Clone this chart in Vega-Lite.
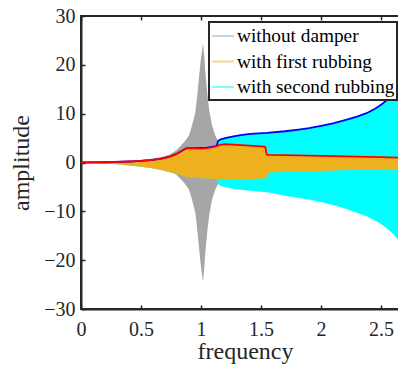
{
  "$schema": "https://vega.github.io/schema/vega-lite/v6.json",
  "width": 318,
  "height": 293,
  "autosize": {"type": "none"},
  "padding": {"left": 81, "top": 16, "right": 0, "bottom": 57},
  "config": {
    "font": "Liberation Serif",
    "view": {"stroke": "#262626", "strokeWidth": 2},
    "axis": {
      "grid": false,
      "domainColor": "#262626",
      "domainWidth": 2,
      "tickColor": "#262626",
      "tickWidth": 1.5,
      "tickSize": -4,
      "labelFlush": false,
      "labelFont": "Liberation Serif",
      "labelFontSize": 20,
      "labelColor": "#262626",
      "titleFont": "Liberation Serif",
      "titleFontSize": 24,
      "titleFontWeight": "normal",
      "titleColor": "#262626"
    }
  },
  "datasets": {
    "env": [
      {"s": "without damper", "f": 0, "hi": 0, "lo": 0},
      {"s": "without damper", "f": 0.3, "hi": 0.2, "lo": -0.2},
      {"s": "without damper", "f": 0.5, "hi": 0.5, "lo": -0.5},
      {"s": "without damper", "f": 0.6, "hi": 0.8, "lo": -0.8},
      {"s": "without damper", "f": 0.7, "hi": 1.3, "lo": -1.3},
      {"s": "without damper", "f": 0.75, "hi": 1.8, "lo": -1.8},
      {"s": "without damper", "f": 0.8, "hi": 2.6, "lo": -2.6},
      {"s": "without damper", "f": 0.83, "hi": 3.4, "lo": -3.4},
      {"s": "without damper", "f": 0.86, "hi": 4.2, "lo": -4.2},
      {"s": "without damper", "f": 0.88, "hi": 4.8, "lo": -4.8},
      {"s": "without damper", "f": 0.9, "hi": 5.6, "lo": -5.6},
      {"s": "without damper", "f": 0.915, "hi": 6.7, "lo": -6.7},
      {"s": "without damper", "f": 0.94, "hi": 9.0, "lo": -9.0},
      {"s": "without damper", "f": 0.953, "hi": 10.3, "lo": -10.3},
      {"s": "without damper", "f": 0.967, "hi": 13.3, "lo": -13.3},
      {"s": "without damper", "f": 0.977, "hi": 15.8, "lo": -15.8},
      {"s": "without damper", "f": 0.995, "hi": 20.3, "lo": -20.3},
      {"s": "without damper", "f": 1.016, "hi": 24.4, "lo": -24.4},
      {"s": "without damper", "f": 1.028, "hi": 21.5, "lo": -21.5},
      {"s": "without damper", "f": 1.036, "hi": 18.5, "lo": -18.5},
      {"s": "without damper", "f": 1.055, "hi": 13.5, "lo": -13.5},
      {"s": "without damper", "f": 1.07, "hi": 10.5, "lo": -10.5},
      {"s": "without damper", "f": 1.078, "hi": 9.5, "lo": -9.5},
      {"s": "without damper", "f": 1.09, "hi": 7.8, "lo": -7.8},
      {"s": "without damper", "f": 1.105, "hi": 6.6, "lo": -6.6},
      {"s": "without damper", "f": 1.12, "hi": 5.5, "lo": -5.5},
      {"s": "without damper", "f": 1.145, "hi": 4.3, "lo": -4.3},
      {"s": "without damper", "f": 1.18, "hi": 3.7, "lo": -3.7},
      {"s": "without damper", "f": 1.25, "hi": 3.2, "lo": -3.2},

      {"s": "with first rubbing", "f": 0, "hi": 0, "lo": 0},
      {"s": "with first rubbing", "f": 0.1, "hi": 0.02, "lo": -0.08},
      {"s": "with first rubbing", "f": 0.2, "hi": 0.05, "lo": -0.2},
      {"s": "with first rubbing", "f": 0.3, "hi": 0.1, "lo": -0.38},
      {"s": "with first rubbing", "f": 0.41, "hi": 0.2, "lo": -0.6},
      {"s": "with first rubbing", "f": 0.5, "hi": 0.33, "lo": -0.85},
      {"s": "with first rubbing", "f": 0.58, "hi": 0.5, "lo": -1.15},
      {"s": "with first rubbing", "f": 0.66, "hi": 0.76, "lo": -1.5},
      {"s": "with first rubbing", "f": 0.7, "hi": 0.95, "lo": -1.75},
      {"s": "with first rubbing", "f": 0.74, "hi": 1.2, "lo": -2.0},
      {"s": "with first rubbing", "f": 0.78, "hi": 1.55, "lo": -2.25},
      {"s": "with first rubbing", "f": 0.81, "hi": 1.95, "lo": -2.4},
      {"s": "with first rubbing", "f": 0.83, "hi": 2.25, "lo": -2.55},
      {"s": "with first rubbing", "f": 0.855, "hi": 2.6, "lo": -2.75},
      {"s": "with first rubbing", "f": 0.88, "hi": 2.9, "lo": -2.95},
      {"s": "with first rubbing", "f": 0.91, "hi": 2.95, "lo": -3.05},
      {"s": "with first rubbing", "f": 0.95, "hi": 2.9, "lo": -3.15},
      {"s": "with first rubbing", "f": 1.0, "hi": 2.85, "lo": -3.2},
      {"s": "with first rubbing", "f": 1.05, "hi": 2.95, "lo": -3.3},
      {"s": "with first rubbing", "f": 1.1, "hi": 3.15, "lo": -3.4},
      {"s": "with first rubbing", "f": 1.13, "hi": 3.35, "lo": -3.45},
      {"s": "with first rubbing", "f": 1.16, "hi": 3.6, "lo": -3.5},
      {"s": "with first rubbing", "f": 1.2, "hi": 3.75, "lo": -3.5},
      {"s": "with first rubbing", "f": 1.3, "hi": 3.6, "lo": -3.5},
      {"s": "with first rubbing", "f": 1.4, "hi": 3.45, "lo": -3.45},
      {"s": "with first rubbing", "f": 1.5, "hi": 3.3, "lo": -3.3},
      {"s": "with first rubbing", "f": 1.535, "hi": 3.2, "lo": -3.25},
      {"s": "with first rubbing", "f": 1.548, "hi": 1.6, "lo": -3.2},
      {"s": "with first rubbing", "f": 1.565, "hi": 1.58, "lo": -2.05},
      {"s": "with first rubbing", "f": 1.7, "hi": 1.5, "lo": -1.95},
      {"s": "with first rubbing", "f": 1.9, "hi": 1.4, "lo": -1.8},
      {"s": "with first rubbing", "f": 2.1, "hi": 1.3, "lo": -1.65},
      {"s": "with first rubbing", "f": 2.3, "hi": 1.2, "lo": -1.5},
      {"s": "with first rubbing", "f": 2.5, "hi": 1.1, "lo": -1.42},
      {"s": "with first rubbing", "f": 2.65, "hi": 1.0, "lo": -1.35},

      {"s": "with second rubbing", "f": 0, "hi": 0, "lo": 0},
      {"s": "with second rubbing", "f": 0.2, "hi": 0.05, "lo": -0.2},
      {"s": "with second rubbing", "f": 0.41, "hi": 0.2, "lo": -0.6},
      {"s": "with second rubbing", "f": 0.58, "hi": 0.5, "lo": -1.15},
      {"s": "with second rubbing", "f": 0.66, "hi": 0.76, "lo": -1.5},
      {"s": "with second rubbing", "f": 0.74, "hi": 1.2, "lo": -2.0},
      {"s": "with second rubbing", "f": 0.81, "hi": 1.95, "lo": -2.4},
      {"s": "with second rubbing", "f": 0.855, "hi": 2.6, "lo": -2.75},
      {"s": "with second rubbing", "f": 0.88, "hi": 2.95, "lo": -2.95},
      {"s": "with second rubbing", "f": 0.95, "hi": 2.95, "lo": -3.15},
      {"s": "with second rubbing", "f": 1.05, "hi": 3.05, "lo": -3.3},
      {"s": "with second rubbing", "f": 1.1, "hi": 3.25, "lo": -3.4},
      {"s": "with second rubbing", "f": 1.13, "hi": 3.4, "lo": -3.45},
      {"s": "with second rubbing", "f": 1.142, "hi": 4.4, "lo": -4.4},
      {"s": "with second rubbing", "f": 1.16, "hi": 4.7, "lo": -4.8},
      {"s": "with second rubbing", "f": 1.2, "hi": 5.0, "lo": -5.0},
      {"s": "with second rubbing", "f": 1.27, "hi": 5.35, "lo": -5.35},
      {"s": "with second rubbing", "f": 1.33, "hi": 5.6, "lo": -5.6},
      {"s": "with second rubbing", "f": 1.41, "hi": 5.85, "lo": -5.8},
      {"s": "with second rubbing", "f": 1.55, "hi": 6.05, "lo": -6.1},
      {"s": "with second rubbing", "f": 1.7, "hi": 6.4, "lo": -6.8},
      {"s": "with second rubbing", "f": 1.83, "hi": 6.8, "lo": -7.3},
      {"s": "with second rubbing", "f": 1.9, "hi": 7.05, "lo": -7.6},
      {"s": "with second rubbing", "f": 2.0, "hi": 7.5, "lo": -8.1},
      {"s": "with second rubbing", "f": 2.1, "hi": 8.0, "lo": -8.7},
      {"s": "with second rubbing", "f": 2.2, "hi": 8.7, "lo": -9.4},
      {"s": "with second rubbing", "f": 2.3, "hi": 9.4, "lo": -10.3},
      {"s": "with second rubbing", "f": 2.38, "hi": 10.1, "lo": -11.0},
      {"s": "with second rubbing", "f": 2.45, "hi": 11.0, "lo": -11.9},
      {"s": "with second rubbing", "f": 2.5, "hi": 11.8, "lo": -12.6},
      {"s": "with second rubbing", "f": 2.55, "hi": 12.8, "lo": -13.5},
      {"s": "with second rubbing", "f": 2.6, "hi": 13.9, "lo": -14.6},
      {"s": "with second rubbing", "f": 2.65, "hi": 15.2, "lo": -16.0}
    ]
  },
  "data": {"name": "env"},
  "resolve": {"axis": {"x": "independent"}},
  "layer": [
    {
      "transform": [{"filter": "datum.s === 'without damper'"}],
      "mark": {"type": "area", "clip": true, "opacity": 1},
      "encoding": {
        "x": {"field": "f", "type": "quantitative", "title": "frequency",
              "scale": {"domain": [0, 2.65], "nice": false, "zero": false},
              "axis": {"orient": "bottom", "values": [0, 0.5, 1, 1.5, 2, 2.5], "labelExpr": "'' + datum.value", "labelPadding": 14, "titlePadding": 0, "titleX": 164}},
        "y": {"field": "hi", "type": "quantitative", "title": "amplitude",
              "scale": {"domain": [-30, 30], "nice": false},
              "axis": {"values": [-30, -20, -10, 0, 10, 20, 30], "labelPadding": 10, "titlePadding": 10}},
        "y2": {"field": "lo"},
        "color": {"field": "s", "type": "nominal",
                  "scale": {"domain": ["without damper", "with first rubbing", "with second rubbing"], "range": ["#a6a6a6", "#edb120", "#00ffff"]},
                  "legend": {
                    "orient": "none", "legendX": 128, "legendY": 6, "title": null,
                    "symbolType": "stroke", "symbolSize": 484, "symbolStrokeWidth": 2, "symbolOpacity": 0.5,
                    "labelFont": "Liberation Serif", "labelFontSize": 19.3, "labelColor": "#000000", "labelLimit": 300, "labelOffset": 2,
                    "strokeColor": "#262626", "fillColor": "#ffffff", "padding": 2, "rowPadding": 2.5,
                    "encode": {
                      "symbols": {"update": {"stroke": {"scale": "color", "field": "value"}}},
                      "legend": {"update": {"strokeWidth": {"value": 2}}}
                    }
                  }}
      }
    },
    {
      "transform": [{"filter": "datum.s === 'with second rubbing'"}],
      "mark": {"type": "area", "clip": true, "opacity": 1},
      "encoding": {
        "x": {"field": "f", "type": "quantitative", "title": "frequency", "axis": null},
        "y": {"field": "hi", "type": "quantitative", "title": "amplitude"},
        "y2": {"field": "lo"},
        "color": {"field": "s", "type": "nominal"}
      }
    },
    {
      "transform": [{"filter": "datum.s === 'with first rubbing'"}],
      "mark": {"type": "area", "clip": true, "opacity": 1},
      "encoding": {
        "x": {"field": "f", "type": "quantitative", "title": "frequency", "axis": null},
        "y": {"field": "hi", "type": "quantitative", "title": "amplitude"},
        "y2": {"field": "lo"},
        "color": {"field": "s", "type": "nominal"}
      }
    },
    {
      "transform": [{"filter": "datum.s === 'with second rubbing'"}],
      "mark": {"type": "line", "clip": true, "color": "#0000ff", "strokeWidth": 1.8},
      "encoding": {
        "x": {"field": "f", "type": "quantitative", "title": "frequency", "axis": null},
        "y": {"field": "hi", "type": "quantitative", "title": "amplitude"}
      }
    },
    {
      "transform": [{"filter": "datum.s === 'with first rubbing'"}],
      "mark": {"type": "line", "clip": true, "color": "#ff0000", "strokeWidth": 1.8},
      "encoding": {
        "x": {"field": "f", "type": "quantitative", "title": "frequency",
              "axis": {"orient": "top", "labels": false, "title": null, "domain": false, "values": [0, 0.5, 1, 1.5, 2, 2.5]}},
        "y": {"field": "hi", "type": "quantitative", "title": "amplitude"}
      }
    }
  ]
}
